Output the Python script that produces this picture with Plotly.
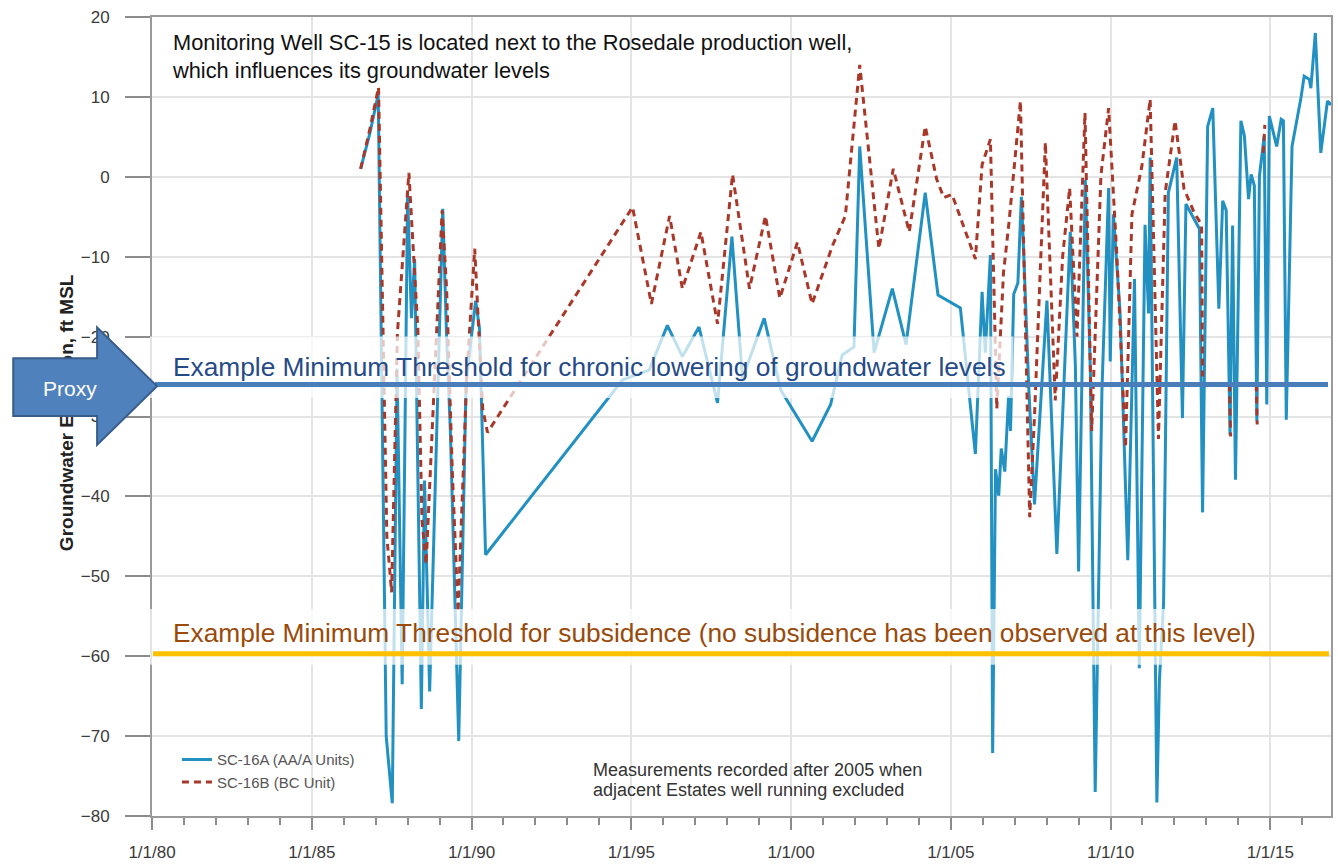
import plotly.graph_objects as go

# ---- data -------------------------------------------------------------
# SC-16A (AA/A Units): decimal year, groundwater elevation (ft MSL)
sc16a_year = [
    1986.53, 1986.81, 1987.08, 1987.33, 1987.52, 1987.67, 1987.83, 1988.00,
    1988.12, 1988.22, 1988.43, 1988.53, 1988.69, 1989.00, 1989.10, 1989.22,
    1989.34, 1989.60, 1989.83, 1990.13, 1990.25, 1990.44,
    1994.73, 1995.56, 1996.13, 1996.60, 1997.12, 1997.70, 1998.15, 1998.48,
    1999.16, 1999.68, 2000.66, 2001.24, 2001.60, 2001.97, 2002.15, 2002.60,
    2003.17, 2003.60, 2004.20, 2004.60, 2005.10, 2005.30, 2005.77, 2005.98,
    2006.08, 2006.24, 2006.31, 2006.40, 2006.50, 2006.58, 2006.69, 2006.81,
    2006.87, 2006.97, 2007.10, 2007.21, 2007.28, 2007.44, 2007.62, 2008.01,
    2008.32, 2008.74, 2008.90, 2009.00, 2009.21, 2009.37, 2009.52, 2009.73,
    2009.94, 2009.99, 2010.09, 2010.30, 2010.54, 2010.75, 2010.90, 2011.08,
    2011.19, 2011.24, 2011.45, 2011.53, 2011.66, 2011.81, 2012.07, 2012.25,
    2012.36, 2012.78, 2012.88, 2013.04, 2013.20, 2013.39, 2013.51, 2013.62,
    2013.74, 2013.82, 2013.91, 2014.08, 2014.19, 2014.32, 2014.40, 2014.50,
    2014.58, 2014.66, 2014.81, 2014.89, 2014.97, 2015.20, 2015.34, 2015.41,
    2015.50, 2015.68, 2015.96, 2016.06, 2016.22, 2016.27, 2016.41, 2016.58,
    2016.79, 2016.90,
]
sc16a_elev = [
    1.0, 5.3, 10.3, -70.0, -78.4, -24.0, -63.5, -2.2,
    -17.7, -10.3, -66.6, -38.0, -64.4, -18.0, -4.0, -20.0,
    -32.0, -70.6, -25.8, -15.5, -19.0, -47.3,
    -25.4, -24.2, -18.6, -22.5, -18.8, -28.3, -7.5, -25.2,
    -17.7, -26.7, -33.1, -28.5, -22.3, -21.3, 3.8, -22.0,
    -14.0, -21.0, -2.0, -14.8, -16.0, -16.4, -34.7, -14.4,
    -22.0, -9.8, -72.1, -36.6, -39.9, -34.0, -36.9, -27.4,
    -31.8, -14.7, -13.3, -2.5, -9.3, -26.3, -41.0, -15.5,
    -47.2, -6.9, -23.7, -49.4, -0.4, -24.7, -77.0, -26.9,
    -1.4, -23.1, -4.7, -17.1, -48.0, -12.8, -61.5, -6.0,
    -17.1, 2.4, -78.3, -63.0, -53.4, -2.0, 2.4, -30.2,
    -3.4, -6.5, -42.0, 6.3, 8.6, -16.5, -3.0, -4.2,
    -32.3, -6.1, -37.9, 7.0, 5.1, -2.8, 0.3, -1.1,
    -30.6, 0.1, 5.1, -28.5, 7.6, 3.8, 7.2, 7.0,
    -30.4, 3.8, 9.9, 12.6, 12.2, 11.1, 18.0, 3.0,
    9.5, 9.0,
]

# SC-16B (BC Unit); None marks breaks in the record
sc16b_year = [
    1986.53, 1986.81, 1987.09, 1987.35, 1987.50, 1987.68, 1988.04, 1988.20,
    1988.32, 1988.45, 1988.58, 1989.08, 1989.22, 1989.40, 1989.58, 1989.85,
    1990.10, 1990.35, 1990.50,
    1995.04, 1995.63, 1996.20, 1996.60, 1997.18, 1997.70, 1998.17, 1998.70,
    1999.20, 1999.65, 2000.20, 2000.66, 2001.30, 2001.70, 2002.15, 2002.75,
    2003.20, 2003.70, 2004.20, 2004.56, 2004.78, 2005.04, 2005.77, 2005.98,
    2006.24, 2006.44, 2006.65, 2006.82, 2007.18, 2007.47, 2007.62, 2007.96,
    2008.27, 2008.50, 2008.72, 2008.95, 2009.20, 2009.41, 2009.70, 2009.94,
    2010.20, 2010.47, 2010.67, 2010.98, 2011.24, 2011.50, 2011.71, 2012.02,
    2012.30, 2012.62, 2012.85, 2012.88, 2012.90,
    2013.72, 2013.76, 2013.80,
    2014.56, 2014.59, 2014.62,
    2014.78, 2014.83,
]
sc16b_elev = [
    1.0, 5.8, 11.2, -45.0, -52.0, -19.6, 0.5, -10.0,
    -19.0, -43.0, -48.5, -4.2, -14.0, -37.0, -54.5, -25.0,
    -9.0, -29.0, -32.0,
    -3.8, -15.9, -4.9, -14.0, -6.9, -18.4, 0.3, -14.0,
    -4.9, -15.2, -8.2, -15.9, -8.6, -4.9, 14.0, -9.0,
    1.0, -6.9, 6.3, -0.3, -2.6, -2.2, -10.3, 1.5,
    4.7, -29.0, -12.0, -5.8, 9.5, -42.6, -30.0, 4.3,
    -28.0, -10.0, -1.4, -20.0, 8.0, -31.8, 0.2, 8.6,
    -10.0, -33.9, -4.7, 1.3, 9.7, -32.8, -2.0, 7.0,
    -1.5, -4.5, -6.0, -25.0, None,
    -26.0, -32.5, None,
    -26.0, -31.0, None,
    3.0, 6.5,
]

tick_years = [1980, 1985, 1990, 1995, 2000, 2005, 2010, 2015]
tick_labels = ["1/1/80", "1/1/85", "1/1/90", "1/1/95",
               "1/1/00", "1/1/05", "1/1/10", "1/1/15"]

chronic_threshold = -26.0
subsidence_threshold = -59.7

# ---- page geometry ----------------------------------------------------
W, H = 1338, 867
ML, MR, MT, MB = 152, 5, 17, 47


def fx(px):
    return (px - ML) / (W - ML - MR)


def fy(py):
    return (H - MB - py) / (H - MT - MB)


FONT = "Liberation Sans, Arial"

fig = go.Figure()

fig.add_trace(go.Scatter(
    x=sc16a_year, y=sc16a_elev, mode="lines", name="SC-16A (AA/A Units)",
    line=dict(color="#2291c2", width=3), legendgroup="a",
))
# BC unit series sits on the companion axis (same scale) so it draws on top
fig.add_trace(go.Scatter(
    x=sc16b_year, y=sc16b_elev, mode="lines", name="SC-16B (BC Unit)",
    line=dict(color="#a8382a", width=3, dash="7px,5px"), legendgroup="b",
    yaxis="y2", connectgaps=False,
))

shapes = []
# translucent backing behind the threshold captions
shapes.append(dict(type="rect", xref="paper", yref="paper",
                   x0=fx(150), x1=fx(1015), y0=fy(400), y1=fy(338),
                   fillcolor="rgba(255,255,255,0.72)", line=dict(width=0),
                   layer="above"))
shapes.append(dict(type="rect", xref="paper", yref="paper",
                   x0=fx(150), x1=fx(1263), y0=fy(668), y1=fy(612),
                   fillcolor="rgba(255,255,255,0.72)", line=dict(width=0),
                   layer="above"))
# threshold lines
shapes.append(dict(type="line", xref="paper", yref="y",
                   x0=fx(155), x1=fx(1330),
                   y0=chronic_threshold, y1=chronic_threshold,
                   line=dict(color="#4a7ebb", width=5), layer="above"))
shapes.append(dict(type="line", xref="paper", yref="y",
                   x0=fx(153), x1=fx(1331),
                   y0=subsidence_threshold, y1=subsidence_threshold,
                   line=dict(color="#ffc000", width=5), layer="above"))
# "Proxy" block arrow
arrow_pts = [(13, 360), (97, 360), (97, 329), (157, 388), (97, 447),
             (97, 418), (13, 418)]
path = "M " + " L ".join(f"{fx(a):.5f},{fy(b):.5f}" for a, b in arrow_pts) + " Z"
shapes.append(dict(type="path", xref="paper", yref="paper", path=path,
                   fillcolor="#4f81bd", line=dict(color="#385d8a", width=2),
                   layer="above"))

annotations = [
    dict(text="Monitoring Well SC-15 is located next to the Rosedale production well,"
              "<br>which influences its groundwater levels",
         xref="paper", yref="paper", x=fx(170), y=fy(57),
         xanchor="left", yanchor="middle", align="left", showarrow=False,
         font=dict(family=FONT, size=21.8, color="#111111")),
    dict(text="Example Minimum Threshold for chronic lowering of groundwater levels",
         xref="paper", yref="paper", x=fx(171), y=fy(369),
         xanchor="left", yanchor="middle", showarrow=False,
         font=dict(family=FONT, size=26.3, color="#254b87")),
    dict(text="Example Minimum Threshold for subsidence (no subsidence has been "
              "observed at this level)",
         xref="paper", yref="paper", x=fx(171), y=fy(636),
         xanchor="left", yanchor="middle", showarrow=False,
         font=dict(family=FONT, size=26.3, color="#9a4a0a")),
    dict(text="Proxy", xref="paper", yref="paper", x=fx(70), y=fy(390),
         xanchor="center", yanchor="middle", showarrow=False,
         font=dict(family=FONT, size=21, color="#ffffff")),
    dict(text="Measurements recorded after 2005 when",
         xref="paper", yref="paper", x=fx(592), y=fy(774),
         xanchor="left", yanchor="middle", showarrow=False,
         font=dict(family=FONT, size=18, color="#333333")),
    dict(text="adjacent Estates well running excluded",
         xref="paper", yref="paper", x=fx(592), y=fy(794),
         xanchor="left", yanchor="middle", showarrow=False,
         font=dict(family=FONT, size=18, color="#333333")),
]

axis_font = dict(family=FONT, size=17, color="#3a3a3a")

fig.update_layout(
    width=W, height=H,
    margin=dict(l=ML, r=MR, t=MT, b=MB, pad=0),
    paper_bgcolor="white", plot_bgcolor="white",
    shapes=shapes, annotations=annotations,
    xaxis=dict(
        range=[1980, 2016.9], tickmode="array", tickvals=tick_years,
        ticktext=tick_labels, ticks="outside", ticklen=12, tickwidth=2,
        tickcolor="#8c8c8c", showline=True, linecolor="#9a9a9a", linewidth=2,
        mirror=True, showgrid=True, gridcolor="#e4e4e4", gridwidth=1.5,
        zeroline=False, tickfont=axis_font, ticklabelstandoff=8,
        minor=dict(ticks="outside", ticklen=7, tickwidth=1.5,
                   tickcolor="#8c8c8c", tick0=1980, dtick=1, showgrid=False),
    ),
    yaxis=dict(
        range=[-80, 20], tick0=0, dtick=10, ticks="outside", ticklen=25,
        tickwidth=2, tickcolor="#8c8c8c", showline=True, linecolor="#9a9a9a",
        linewidth=2, mirror=True, showgrid=True, gridcolor="#e4e4e4",
        gridwidth=1.5, zeroline=False, tickfont=axis_font,
        ticklabelstandoff=12,
    ),
    # companion left axis: same scale, carries the rotated axis caption
    yaxis2=dict(
        overlaying="y", anchor="free", position=0, side="left",
        range=[-80, 20], tickmode="array", tickvals=[-29.9],
        ticktext=["Groundwater Elevation, ft MSL"], tickangle=-90,
        ticks="", showgrid=False, showline=False, zeroline=False,
        tickfont=dict(family=FONT, size=19, color="#222222", weight="bold"),
        ticklabelstandoff=75,
    ),
    legend=dict(
        x=fx(177), y=fy(747), xanchor="left", yanchor="top",
        bgcolor="rgba(0,0,0,0)", borderwidth=0, tracegroupgap=0,
        font=dict(family=FONT, size=15, color="#555555"),
    ),
    showlegend=True,
)

fig.write_html("out.html")
